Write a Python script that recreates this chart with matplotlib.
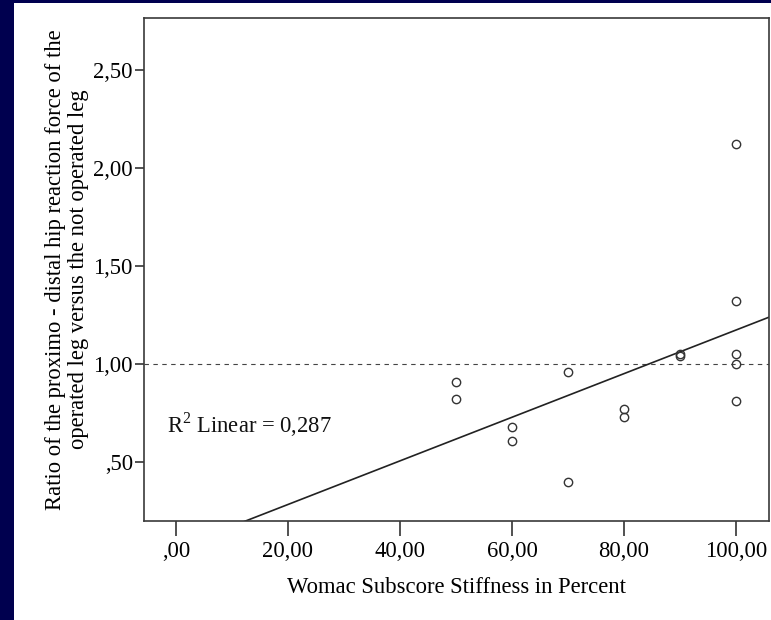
import numpy as np
import matplotlib
matplotlib.use('Agg')
import matplotlib.pyplot as plt
from matplotlib.patches import Rectangle

# Womac stiffness subscore (%) and proximo-distal force ratio, one pair per patient
stiffness = [50, 50, 60, 60, 70, 70, 80, 80, 90, 90, 100, 100, 100, 100, 100]
force_ratio = [0.91, 0.82, 0.68, 0.61, 0.96, 0.40, 0.77, 0.73, 1.04, 1.05,
               2.12, 1.32, 1.05, 1.00, 0.81]

x_ticks = [0, 20, 40, 60, 80, 100]
x_tick_labels = [',00', '20,00', '40,00', '60,00', '80,00', '100,00']
y_ticks = [0.5, 1.0, 1.5, 2.0, 2.5]
y_tick_labels = [',50', '1,00', '1,50', '2,00', '2,50']

r2_text = 'R$^2$ Linear = 0,287'
x_label = 'Womac Subscore Stiffness in Percent'
y_label = ('Ratio of the proximo - distal hip reaction force of the\n'
           'operated leg versus the not operated leg')

plt.rcParams['font.family'] = ['Liberation Serif', 'DejaVu Serif']
plt.rcParams['mathtext.fontset'] = 'custom'
plt.rcParams['mathtext.rm'] = 'Liberation Serif'
FS = 16.3

W, H = 771, 620
fig = plt.figure(figsize=(W / 100, H / 100), dpi=100)
fig.patch.set_facecolor('#00004f')
# white slide panel behind the chart
fig.patches.append(Rectangle((14 / W, 0), 1 - 14 / W, (H - 3) / H,
                             transform=fig.transFigure, facecolor='white',
                             edgecolor='none', zorder=-5))

ax = fig.add_axes([144 / W, 1 - 521 / H, (769 - 144) / W, (521 - 18) / H])
ax.set_zorder(2)
ax.set_facecolor('white')

ax.set_xlim(-5.7, 105.9)
ax.set_ylim(0.2, 2.765)

# reference line at ratio 1
ax.axhline(1.0, color='#444444', lw=0.8, dashes=(4, 4), zorder=1)

# least squares fit line across the whole x range
slope, intercept = np.polyfit(stiffness, force_ratio, 1)
xs = np.array(ax.get_xlim())
ax.plot(xs, slope * xs + intercept, color='#222222', lw=1.2, zorder=2)

ax.plot(stiffness, force_ratio, linestyle='none', marker='o', ms=6,
        mfc='none', mec='#333333', mew=1.0, zorder=3)

ax.text(-1.6, 0.69, r2_text, fontsize=FS, color='#111111', va='center')

ax.set_xticks(x_ticks)
ax.set_xticklabels(x_tick_labels)
ax.set_yticks(y_ticks)
ax.set_yticklabels(y_tick_labels)
ax.tick_params(axis='x', length=11, width=1.2, color='#333333', pad=3.5,
               labelsize=FS)
ax.tick_params(axis='y', length=6.5, width=1.2, color='#333333', pad=1.5,
               labelsize=FS)

for side in ax.spines.values():
    side.set_color('#3a3a3a')
    side.set_linewidth(1.2)

ax.set_xlabel(x_label, fontsize=FS, labelpad=11)
ax.set_ylabel(y_label, fontsize=FS, linespacing=1.12)
ax.yaxis.set_label_coords((89 - 144) / 625, 0.5)

fig.savefig('out.png', dpi=100, facecolor=fig.get_facecolor())
